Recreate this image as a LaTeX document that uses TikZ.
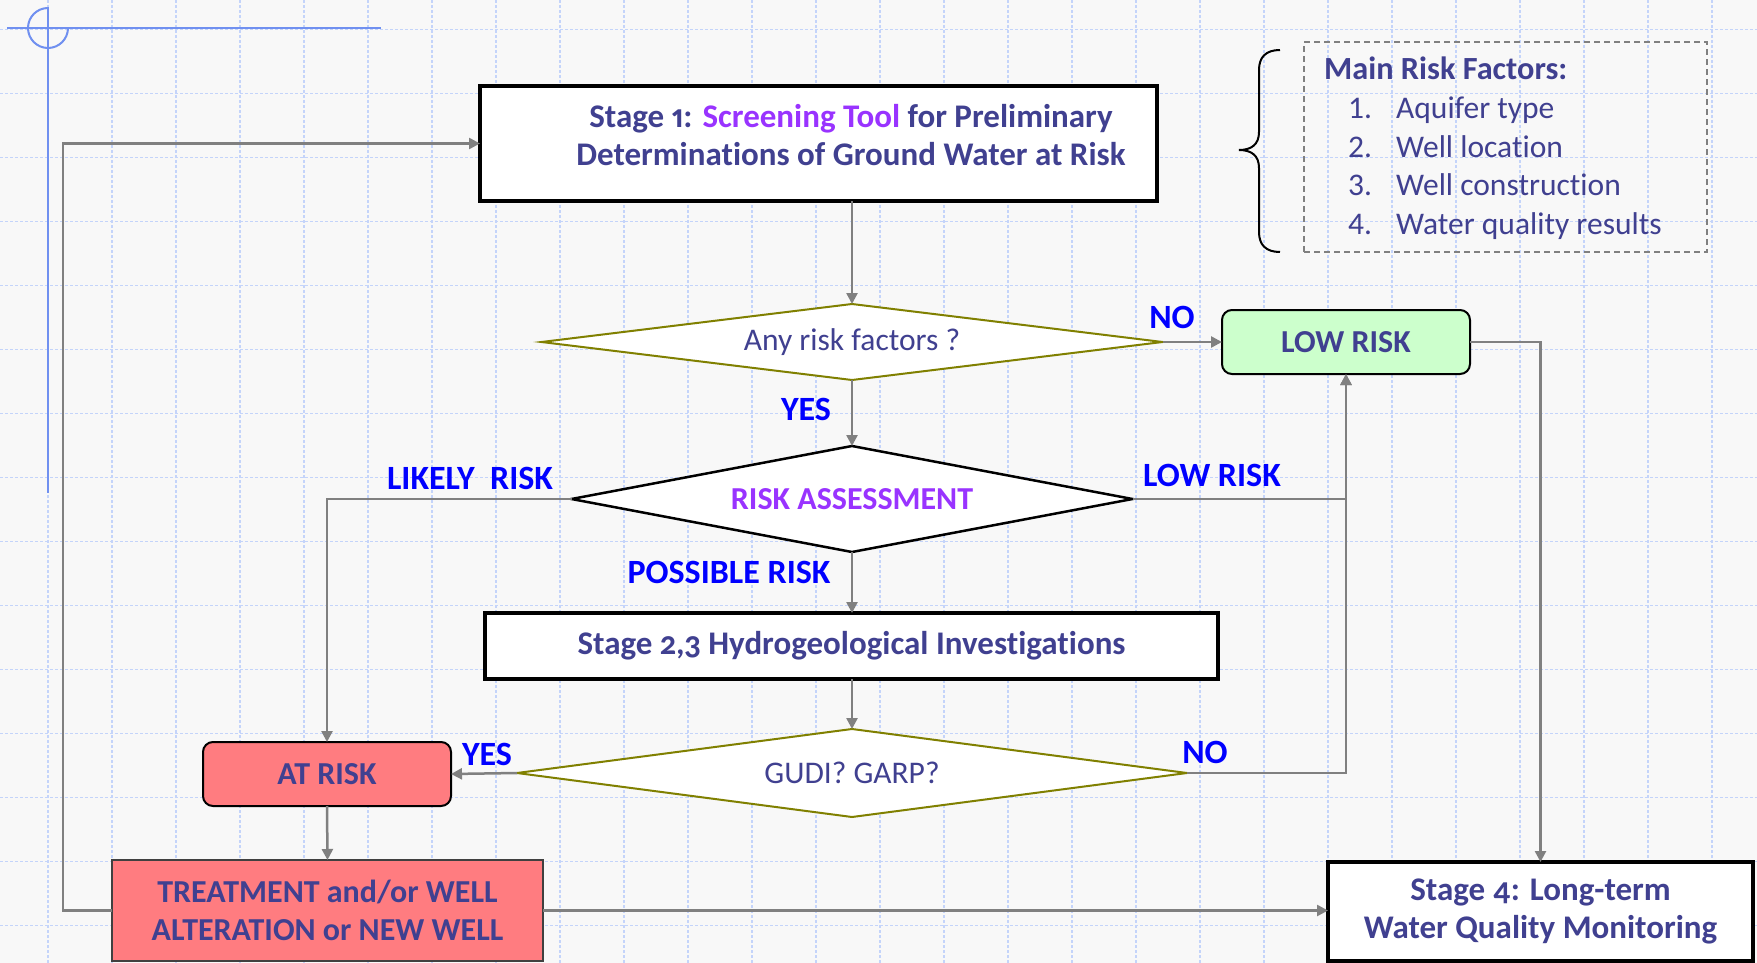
\documentclass[tikz,border=0pt]{standalone}
\usepackage{fontspec}
\setmainfont{Carlito}[Ligatures=NoCommon]
\newfontfamily\onum{Carlito}[Numbers={OldStyle,Proportional},Ligatures=NoCommon]
\usetikzlibrary{shapes.geometric,arrows.meta}
\definecolor{bgc}{HTML}{F8F8F8}
\definecolor{gridc}{HTML}{C4D4FA}
\definecolor{decoc}{HTML}{7090F0}
\definecolor{txtc}{HTML}{404090}
\definecolor{labc}{HTML}{0000FF}
\definecolor{purpc}{HTML}{9933FF}
\definecolor{olivec}{HTML}{808000}
\definecolor{connc}{HTML}{808080}
\definecolor{lowc}{HTML}{CCFFCC}
\definecolor{riskc}{HTML}{FF7C80}
\newcommand{\fs}[1]{\fontsize{#1}{38}\selectfont}
\begin{document}
\begin{tikzpicture}[x=1pt,y=-1pt,
  gridl/.style={draw=gridc, line width=1.2pt, dash pattern=on 3pt off 2pt},
  deco/.style={draw=decoc, line width=2pt},
  arr/.style={draw=connc, line width=2.5pt, -{Triangle[length=11pt,width=11pt]}},
  stagebox/.style={draw=black, line width=4.5pt, fill=white, inner sep=0pt, outer sep=0pt},
  rbox/.style={draw=black, line width=2pt, rounded corners=10pt, inner sep=0pt, outer sep=0pt, text=txtc, font=\fs{32}\bfseries},
  dia/.style={diamond, fill=white, inner sep=0pt, outer sep=0pt, font=\fs{31.5}},
  lab/.style={text=labc, font=\fs{34}\bfseries, inner sep=0pt},
  btxt/.style={text=txtc, align=center, font=\fs{33}\bfseries, inner sep=0pt},
  ltxt/.style={text=txtc, anchor=base west, inner sep=0pt, font=\fs{31.5}}
]
\useasboundingbox (0,0) rectangle (1757,963);
\fill[bgc] (0,0) rectangle (1757,963);
% grid
\foreach \x in {48,112,...,1712} \draw[gridl] (\x,0) -- (\x,963);
\foreach \y in {29.5,93.5,...,925.5} \draw[gridl] (0,\y) -- (1757,\y);
% decoration
\draw[deco] (7,28) -- (381,28);
\draw[deco] (48,7) -- (48,493);
\draw[deco] (48,8) arc[start angle=270, end angle=0, radius=20];

% nodes
\node[stagebox, minimum width=677pt, minimum height=115pt] (S1) at (818.5,143.5) {};
\node[btxt] (S1t) at (851,135) {Stage {\onum 1}: \textcolor{purpc}{Screening Tool} for Preliminary\\Determinations of Ground Water at Risk};

\node[dia, draw=olivec, line width=2pt, shape aspect=8.17, minimum width=621pt, minimum height=76pt, text=txtc] (D1) at (852,342) {Any risk factors ?};
\node[rbox, fill=lowc, minimum width=248pt, minimum height=64pt] (LOW) at (1346,342) {LOW RISK};
\node[dia, draw=black, line width=2.5pt, shape aspect=5.29, minimum width=561pt, minimum height=106pt, text=purpc, font=\fs{32}\bfseries] (D2) at (852,499) {RISK ASSESSMENT};
\node[stagebox, minimum width=733pt, minimum height=66pt, btxt] (S23) at (851.5,646) {Stage {\onum 2,3} Hydrogeological Investigations};
\node[dia, draw=olivec, line width=2pt, shape aspect=7.6, minimum width=670pt, minimum height=88pt, text=txtc] (D3) at (852,773) {GUDI? GARP?};
\node[rbox, fill=riskc, minimum width=248pt, minimum height=64pt] (ATR) at (327,774) {AT RISK};
\node[draw=black!75, line width=1.5pt, fill=riskc, minimum width=431pt, minimum height=101pt, inner sep=0pt, outer sep=0pt, btxt, font=\fs{32}\bfseries] (TR) at (327.5,910.5) {TREATMENT and/or WELL\\ALTERATION or NEW WELL};
\node[stagebox, minimum width=425pt, minimum height=99pt, btxt] (S4) at (1540.5,911.5) {Stage {\onum 4}: Long-term\\Water Quality Monitoring};

% risk factor box
\node[draw=connc, line width=1.8pt, dash pattern=on 6pt off 4pt, minimum width=403pt, minimum height=210pt, inner sep=0pt] (RFB) at (1505.5,147) {};
\node[ltxt, font=\fs{32.3}\bfseries] (RF0) at (1324,80) {Main Risk Factors:};
\node[ltxt] (RF1) at (1348,119) {\makebox[48pt][l]{1.}Aquifer type};
\node[ltxt] (RF2) at (1348,158) {\makebox[48pt][l]{2.}Well location};
\node[ltxt] (RF3) at (1348,196) {\makebox[48pt][l]{3.}Well construction};
\node[ltxt] (RF4) at (1348,234) {\makebox[48pt][l]{4.}Water quality results};
% brace
\draw[line width=2pt] (1280,50) .. controls (1266,50) and (1259,57) .. (1259,70) -- (1259,132) .. controls (1259,144) and (1252,150) .. (1239,150) .. controls (1252,150) and (1259,156) .. (1259,168) -- (1259,232) .. controls (1259,245) and (1266,252) .. (1280,252);

% connectors
\draw[arr] (D1.north |- S1.south) -- (D1.north);
\draw[arr] (D1.south) -- (D2.north);
\draw[arr] (D1.east) -- (LOW.west);
\draw[arr] (D2.west) -| (ATR.north);
\draw[arr] (D2.east) -| (LOW.south);
\draw[arr] (D2.south) -- (S23.north -| D2.south);
\draw[arr] (S23.south -| D3.north) -- (D3.north);
\draw[arr] (D3.west) -- (ATR.east);
\draw[arr] (D3.east) -| (LOW.south);
\draw[arr] (LOW.east) -| (S4.north);
\draw[arr] (ATR.south) -- (TR.north);
\draw[arr] (TR.east) -- (TR.east -| S4.west);
\draw[arr] (TR.west) -- ++(-49,0) |- (S1.west);

% labels
\node[lab] (lYES1) at (806,409) {YES};
\node[lab] (lNO1) at (1172,317) {NO};
\node[lab] (lLIK) at (470,478) {LIKELY\ \ RISK};
\node[lab] (lLOW) at (1212,475) {LOW RISK};
\node[lab] (lPOS) at (729,572) {POSSIBLE RISK};
\node[lab] (lYES2) at (487,754) {YES};
\node[lab] (lNO2) at (1205,752) {NO};
\end{tikzpicture}
\end{document}
